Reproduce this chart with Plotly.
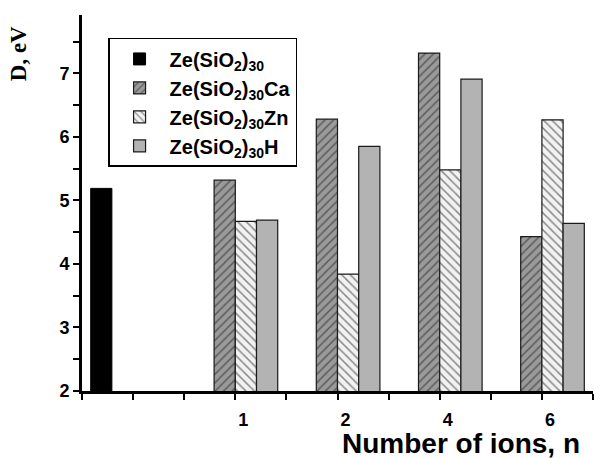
import plotly.graph_objects as go

categories = ["", "1", "2", "4", "6"]
pure = [5.19, None, None, None, None]
ca = [None, 5.32, 6.28, 7.32, 4.43]
zn = [None, 4.67, 3.84, 5.48, 6.27]
hh = [None, 4.69, 5.85, 6.91, 4.64]
names = ["Ze(SiO<sub>2</sub>)<sub>30</sub>",
         "Ze(SiO<sub>2</sub>)<sub>30</sub>Ca",
         "Ze(SiO<sub>2</sub>)<sub>30</sub>Zn",
         "Ze(SiO<sub>2</sub>)<sub>30</sub>H"]
ytick_vals = [2, 3, 4, 5, 6, 7]

xpos = list(range(len(categories)))
SANS = "Liberation Sans"

fig = go.Figure()
fig.add_bar(x=xpos, y=pure, name=names[0],
            marker=dict(color="#000000", line=dict(color="#000000", width=1)))
fig.add_bar(x=xpos, y=ca, name=names[1],
            marker=dict(color="#9a9a9a", line=dict(color="#1a1a1a", width=1.2),
                        pattern=dict(shape="/", bgcolor="#9a9a9a", fgcolor="#1a1a1a",
                                     size=6, solidity=0.25)))
fig.add_bar(x=xpos, y=zn, name=names[2],
            marker=dict(color="#f2f2f2", line=dict(color="#1a1a1a", width=1.2),
                        pattern=dict(shape="\\", bgcolor="#f2f2f2", fgcolor="#1a1a1a",
                                     size=6, solidity=0.25)))
fig.add_bar(x=xpos, y=hh, name=names[3],
            marker=dict(color="#b3b3b3", line=dict(color="#1a1a1a", width=1.2)))

fig.update_layout(
    width=594, height=458,
    margin=dict(l=82, r=1, t=15, b=67),
    plot_bgcolor="white", paper_bgcolor="white",
    barmode="group", bargap=0.17, bargroupgap=0,
    font=dict(family=SANS, size=18, color="black", weight="bold"),
    showlegend=True,
    legend=dict(x=0.051, y=0.939, xanchor="left", yanchor="top",
                bordercolor="black", borderwidth=1.5, bgcolor="white",
                font=dict(family=SANS, size=20, color="black", weight="bold"),
                tracegroupgap=0, itemwidth=50),
)
fig.update_xaxes(range=[-0.5, 4.5], tickmode="array", tickvals=xpos, ticktext=categories,
                 showline=True, linecolor="black", linewidth=3, ticks="outside",
                 ticklen=6, tickwidth=2, tickcolor="black", showgrid=False, zeroline=False,
                 ticklabelshift=8, ticklabelstandoff=4,
                 minor=dict(dtick=0.5, tick0=-0.5, ticks="outside", ticklen=6,
                            tickwidth=2, tickcolor="black", showgrid=False),
                 tickfont=dict(family=SANS, size=18, weight="bold"))
fig.update_yaxes(range=[2, 7.92], tickmode="array", tickvals=ytick_vals,
                 showline=True, linecolor="black", linewidth=3, ticks="outside",
                 ticklen=6, tickwidth=2, tickcolor="black", showgrid=False, zeroline=False,
                 minor=dict(dtick=0.5, tick0=2, ticks="outside", ticklen=6,
                            tickwidth=2, tickcolor="black", showgrid=False),
                 tickfont=dict(family=SANS, size=18, weight="bold"))

fig.add_annotation(text="Number of ions, n", xref="paper", yref="paper",
                   x=0.978, y=-0.14, xanchor="right", yanchor="middle", showarrow=False,
                   font=dict(family=SANS, size=28, weight="bold", color="black"))
fig.add_annotation(text="D, eV", xref="paper", yref="paper",
                   x=-0.125, y=0.896, xanchor="center", yanchor="middle", showarrow=False,
                   textangle=-90,
                   font=dict(family="Liberation Serif", size=23, weight="bold", color="black"))

fig.write_html("out.html", config={"displayModeBar": False},
               post_script="document.body.style.margin='0';document.body.style.padding='0';")
